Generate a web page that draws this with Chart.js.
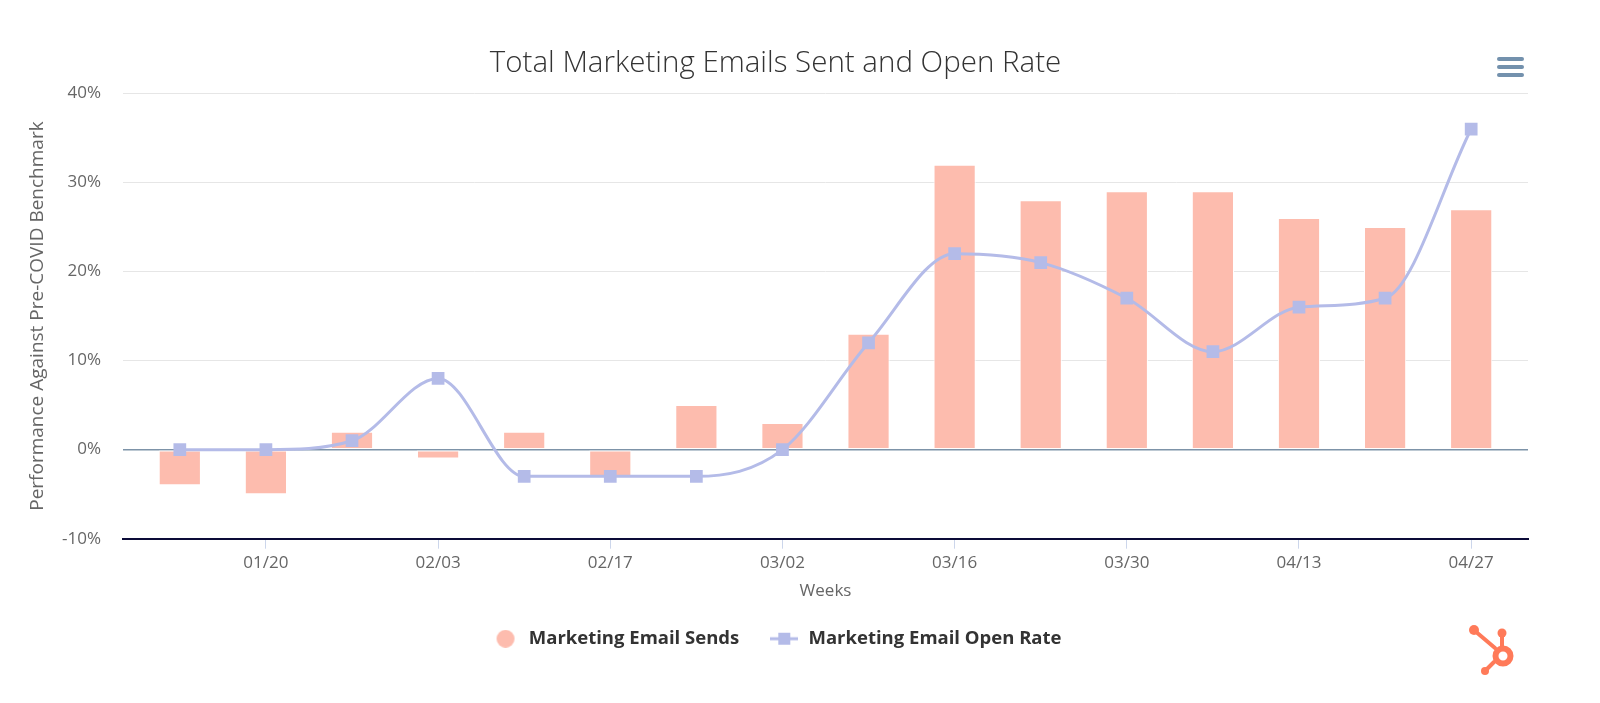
<!DOCTYPE html>
<html>
<head>
<meta charset="utf-8">
<script src="https://cdn.jsdelivr.net/npm/chart.js@4"></script>
<style>
  html, body { margin: 0; padding: 0; background: #fff; }
  #wrap { position: relative; width: 1600px; height: 703px; }
  #menu { position: absolute; left: 1497px; top: 57px; width: 27px; }
  #menu div { height: 4px; border-radius: 2px; background: #7391ad; margin-bottom: 4px; }
  #logo { position: absolute; left: 1460px; top: 622px; }
</style>
</head>
<body>
<div id="wrap">
  <canvas id="myChart" width="1600" height="703"></canvas>
  <div id="menu"><div></div><div></div><div></div></div>
  <svg id="logo" width="60" height="56" viewBox="0 0 60 56">
    <g stroke="#ff7a59" fill="none" stroke-width="4" stroke-linecap="round">
      <line x1="15" y1="9" x2="35" y2="26"/>
      <line x1="42" y1="14" x2="42" y2="24"/>
      <line x1="34" y1="40" x2="26" y2="48"/>
      <circle cx="43" cy="34" r="7.5" stroke-width="6"/>
    </g>
    <g fill="#ff7a59">
      <circle cx="14" cy="8" r="5"/>
      <circle cx="42" cy="11" r="4.5"/>
      <circle cx="25" cy="49" r="4"/>
    </g>
  </svg>
</div>
<script>
let weeks = ["01/13", "01/20", "01/27", "02/03", "02/10", "02/17", "02/24", "03/02",
             "03/09", "03/16", "03/23", "03/30", "04/06", "04/13", "04/20", "04/27"];
let emailSends = [-4, -5, 2, -1, 2, -3, 5, 3, 13, 32, 28, 29, 29, 26, 25, 27];
let openRate = [0, 0, 1, 8, -3, -3, -3, 0, 12, 22, 21, 17, 11, 16, 17, 36];
let yTicks = [-10, 0, 10, 20, 30, 40];

const barColor = "#fdbcae";
const lineColor = "#b4bbe8";
const font = "'Open Sans'";

// legend icons, both 30px wide so the legend boxes line up
function circleIcon() {
  let c = document.createElement("canvas");
  c.width = 30; c.height = 18;
  let g = c.getContext("2d");
  g.fillStyle = barColor;
  g.beginPath(); g.arc(16, 9, 9, 0, Math.PI * 2); g.fill();
  return c;
}

function lineIcon() {
  let c = document.createElement("canvas");
  c.width = 28; c.height = 14;
  let g = c.getContext("2d");
  g.strokeStyle = lineColor;
  g.lineWidth = 3;
  g.beginPath(); g.moveTo(0, 7); g.lineTo(28, 7); g.stroke();
  g.fillStyle = lineColor;
  g.fillRect(8, 1, 12, 12);
  return c;
}

let ctx = document.getElementById("myChart").getContext("2d");
let myChart = new Chart(ctx, {
  data: {
    datasets: [
      {
        type: "bar",
        label: "Marketing Email Sends",
        data: emailSends.map((v, i) => ({ x: i, y: v })),
        backgroundColor: barColor,
        borderColor: "#ffffff",
        borderWidth: 1,
        borderSkipped: false,
        categoryPercentage: 0.49,
        barPercentage: 1,
        order: 2
      },
      {
        type: "line",
        label: "Marketing Email Open Rate",
        data: openRate.map((v, i) => ({ x: i, y: v })),
        borderColor: lineColor,
        backgroundColor: lineColor,
        borderWidth: 3,
        cubicInterpolationMode: "monotone",
        pointStyle: "rect",
        pointRadius: 9,
        pointBorderWidth: 0,
        order: 1
      }
    ]
  },
  options: {
    responsive: false,
    animation: false,
    layout: { padding: { left: 23, right: 72, top: 26, bottom: 45 } },
    plugins: {
      tooltip: { enabled: false },
      title: {
        display: true,
        text: "Total Marketing Emails Sent and Open Rate",
        color: "#333333",
        font: { family: font, size: 29.5, weight: 300 },
        padding: { top: 20, bottom: 12 }
      },
      legend: {
        position: "bottom",
        labels: {
          color: "#333333",
          font: { family: font, size: 18.5, weight: "bold" },
          usePointStyle: true,
          pointStyleWidth: 30,
          boxHeight: 12,
          padding: 30,
          generateLabels: function(chart) {
            return chart.data.datasets.map((ds, i) => ({
              text: ds.label,
              fillStyle: ds.type === "bar" ? barColor : lineColor,
              strokeStyle: ds.type === "bar" ? barColor : lineColor,
              lineWidth: 0,
              pointStyle: ds.type === "bar" ? circleIcon() : lineIcon(),
              datasetIndex: i,
              fontColor: "#333333"
            }));
          }
        }
      }
    },
    scales: {
      x: {
        type: "linear",
        offset: false,
        min: -0.66,
        max: weeks.length - 0.34,
        afterBuildTicks: function(scale) {
          scale.ticks = weeks.map((w, i) => ({ value: i })).filter(t => t.value % 2 === 1);
        },
        ticks: {
          color: "#666666",
          font: { family: font, size: 17 },
          padding: 4,
          maxRotation: 0,
          autoSkip: false,
          callback: function(value) { return weeks[value]; }
        },
        grid: {
          offset: false,
          drawOnChartArea: false,
          tickLength: 10,
          color: "#ccd6eb"
        },
        border: { display: true, color: "#0c0b38", width: 2 },
        title: {
          display: true,
          text: "Weeks",
          color: "#666666",
          font: { family: font, size: 17 },
          padding: { top: 4, bottom: -2 }
        }
      },
      y: {
        min: -10,
        max: 40,
        afterBuildTicks: function(scale) {
          scale.ticks = yTicks.map(v => ({ value: v }));
        },
        afterFit: function(scale) { scale.width = 100; },
        ticks: {
          color: "#666666",
          font: { family: font, size: 17 },
          padding: 22,
          callback: function(value) { return value + "%"; }
        },
        grid: {
          drawTicks: false,
          color: function(c) { return c.tick && c.tick.value === 0 ? "#7d93a8" : "#e6e6e6"; },
          lineWidth: function(c) { return c.tick && c.tick.value === 0 ? 1.5 : 1; }
        },
        border: { display: false },
        title: {
          display: true,
          text: "Performance Against Pre-COVID Benchmark",
          color: "#666666",
          font: { family: font, size: 19 },
          padding: { top: 3, bottom: 10 }
        }
      }
    }
  }
});
</script>
</body>
</html>
